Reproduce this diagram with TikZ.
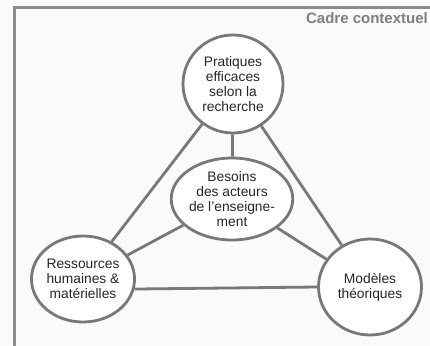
\documentclass[tikz,border=0pt]{standalone}
\usepackage{fontspec}
\setmainfont{Liberation Sans}
\usetikzlibrary{shapes.geometric}
\definecolor{edgegray}{HTML}{787878}
\definecolor{framegray}{HTML}{8C8C8C}
\definecolor{titlegray}{HTML}{7F7F7F}
\begin{document}
\begin{tikzpicture}[x=1pt,y=-1pt,
  bubble/.style={ellipse,draw=edgegray,line width=2.8pt,fill=white,inner sep=0pt,
     align=center,font=\fontsize{13.8}{15}\selectfont,text=black!85},
  link/.style={draw=edgegray,line width=2.8pt}]
\useasboundingbox (0,0) rectangle (430,345);
\fill[white!98!black] (0,0) rectangle (430,345);
\begin{scope}
\clip (0,0) rectangle (430,345);
\draw[framegray,line width=3pt] (14,8) rectangle (445,360);
\end{scope}
\node[anchor=base east,font=\bfseries\fontsize{15}{17}\selectfont,text=titlegray,inner sep=0pt] (title) at (428,24) {Cadre contextuel};
\node[bubble,minimum width=100pt,minimum height=98pt] (top) at (233,84) {Pratiques\\efficaces\\selon la\\recherche};
\node[bubble,minimum width=100pt,minimum height=82pt] (mid) at (232,199) {Besoins\\des acteurs\\de l'enseigne-\\ment};
\node[bubble,minimum width=97pt,minimum height=86pt] (left) at (83,279) {Ressources\\humaines \&\\matérielles};
\node[bubble,minimum width=103pt,minimum height=96pt] (right) at (370,287) {Modèles\\théoriques};
\path[link] (top) -- (mid);
\path[link] (top) -- (left);
\path[link] (top) -- (right);
\path[link] (mid) -- (left);
\path[link] (mid) -- (right);
\path[link] (left.-11) -- (right.180);
\end{tikzpicture}
\end{document}
